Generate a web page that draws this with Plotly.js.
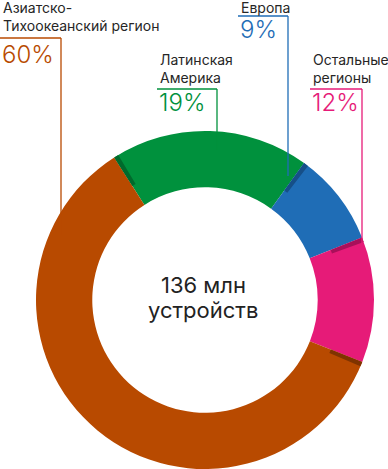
<!DOCTYPE html>
<html><head><meta charset="utf-8">
<script src="https://cdn.plot.ly/plotly-3.0.1.min.js"></script>
<style>html,body{margin:0;padding:0;background:#fff}#chart{width:388px;height:469px}</style>
</head><body><div id="chart"></div>
<script>
const regions = ["Латинская Америка", "Европа", "Остальные регионы", "Азиатско-Тихоокеанский регион"];
const shares = [19, 9, 12, 60];
const pctLabels = ["19%", "9%", "12%", "60%"];
const nameLines = [["Латинская", "Америка"], ["Европа"], ["Остальные", "регионы"], ["Азиатско-", "Тихоокеанский регион"]];
const centerLines = ["136 млн", "устройств"];

const colors = ["#00913d", "#1f6db6", "#e61b78", "#b84a00"];
const darkColors = ["#006a2c", "#164f88", "#a8105a", "#7f3300"];

const W = 388, H = 469;
const px = x => x / W, py = y => 1 - y / H;

// label geometry (pixels)
const labelPos = [
  {x: 158, yc: 68, yp: 102, lineY: 89, lineX: 217, lineEnd: 150},
  {x: 239, yc: 7.5, yp: 29, lineY: 16, lineX: 288, lineEnd: 176},
  {x: 311, yc: 68, yp: 102, lineY: 89, lineX: 362, lineEnd: 243},
  {x: 1, yc: 16.5, yp: 54, lineY: 38, lineX: 61, lineEnd: 235}
];

const domain = {x: [px(36), px(374)], y: [0, 338 / H]};
const rotation = -32.5;

const main = {
  type: 'pie', values: shares, labels: regions, sort: false, direction: 'clockwise',
  rotation: rotation, hole: 0.667, domain: domain,
  marker: {colors: colors, line: {width: 0}}, textinfo: 'none', hoverinfo: 'none', showlegend: false
};

// thin darker wedge at the start of each slice (outer part of ring)
const sh = 0.45;
const shVals = [], shCols = [], shLabels = [];
shares.forEach((v, i) => {
  shVals.push(sh, v - sh);
  shCols.push(darkColors[i], 'rgba(0,0,0,0)');
  shLabels.push('s' + i, 't' + i);
});
const shadow = {
  type: 'pie', values: shVals, labels: shLabels, sort: false, direction: 'clockwise',
  rotation: rotation, hole: 0.8, domain: domain,
  marker: {colors: shCols, line: {width: 0}}, textinfo: 'none', hoverinfo: 'none', showlegend: false
};

const annotations = [];
const shapes = [];
const txtFont = {family: 'Inter, Roboto, sans-serif', size: 14, color: '#262626'};
labelPos.forEach((p, i) => {
  annotations.push({text: nameLines[i].join('<br>'), x: px(p.x), y: py(p.yc), xref: 'paper', yref: 'paper',
    xanchor: 'left', yanchor: 'middle', align: 'left', showarrow: false, font: txtFont});
  annotations.push({text: pctLabels[i], x: px(p.x - 1), y: py(p.yp), xref: 'paper', yref: 'paper',
    xanchor: 'left', yanchor: 'middle', showarrow: false,
    font: {family: 'Inter, Roboto, sans-serif', size: 24, color: colors[i], weight: 300}});
  shapes.push({type: 'line', xref: 'paper', yref: 'paper', x0: px(p.x - 1), x1: px(p.lineX), y0: py(p.lineY), y1: py(p.lineY),
    line: {color: colors[i], width: 1.3}});
  shapes.push({type: 'line', xref: 'paper', yref: 'paper', x0: px(p.lineX), x1: px(p.lineX), y0: py(p.lineY), y1: py(p.lineEnd),
    line: {color: colors[i], width: 1.3}});
});
const cFont = {family: 'Inter, Roboto, sans-serif', size: 22, color: '#222'};
annotations.push({text: centerLines[0], x: px(203), y: py(285), xref: 'paper', yref: 'paper', showarrow: false, xanchor: 'center', yanchor: 'middle', font: cFont});
annotations.push({text: centerLines[1], x: px(203), y: py(310), xref: 'paper', yref: 'paper', showarrow: false, xanchor: 'center', yanchor: 'middle', font: cFont});

Plotly.newPlot('chart', [main, shadow], {
  width: W, height: H, margin: {l: 0, r: 0, t: 0, b: 0},
  paper_bgcolor: '#fff', plot_bgcolor: '#fff', showlegend: false,
  annotations: annotations, shapes: shapes
}, {displayModeBar: false, staticPlot: true});
</script></body></html>
